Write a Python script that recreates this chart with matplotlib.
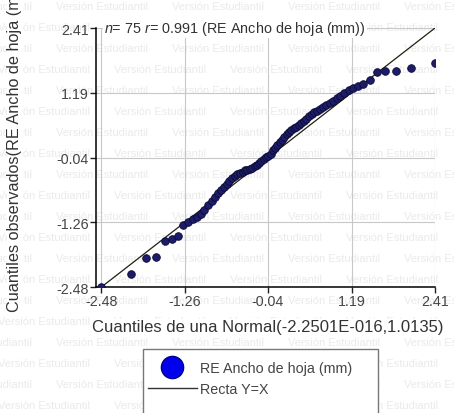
import numpy as np
import matplotlib
matplotlib.use('Agg')
import matplotlib.pyplot as plt
from matplotlib.lines import Line2D
from matplotlib.patches import Rectangle

plt.rcParams['font.family'] = ['Liberation Sans', 'DejaVu Sans']
plt.rcParams['mathtext.fontset'] = 'custom'
plt.rcParams['mathtext.it'] = 'Liberation Sans:italic'
plt.rcParams['mathtext.rm'] = 'Liberation Sans'

# cuantiles teoricos (normal) y observados de los residuos
cuantiles_normal = [-2.48, -2.05, -1.83, -1.68, -1.555, -1.45, -1.36, -1.28, -1.21, -1.14,
                    -1.08, -1.02, -0.97, -0.915, -0.866, -0.818, -0.772, -0.728, -0.685, -0.643,
                    -0.603, -0.563, -0.524, -0.486, -0.449, -0.412, -0.376, -0.341, -0.305, -0.27,
                    -0.236, -0.202, -0.168, -0.134, -0.1, -0.067, -0.033, 0.0, 0.033, 0.067,
                    0.1, 0.134, 0.168, 0.202, 0.236, 0.27, 0.305, 0.341, 0.376, 0.412,
                    0.449, 0.486, 0.524, 0.563, 0.603, 0.643, 0.685, 0.728, 0.772, 0.818,
                    0.866, 0.915, 0.967, 1.022, 1.08, 1.143, 1.21, 1.282, 1.361, 1.451,
                    1.555, 1.679, 1.834, 2.054, 2.41]
cuantiles_obs = [-2.48, -2.23, -1.93, -1.92, -1.62, -1.58, -1.52, -1.3, -1.25, -1.2,
                 -1.15, -1.1, -1.02, -0.93, -0.85, -0.78, -0.7, -0.65, -0.6, -0.53,
                 -0.48, -0.42, -0.38, -0.35, -0.32, -0.3, -0.28, -0.27, -0.25, -0.23,
                 -0.2, -0.17, -0.14, -0.11, -0.07, -0.03, 0.0, 0.04, 0.1, 0.15,
                 0.2, 0.25, 0.3, 0.35, 0.4, 0.44, 0.48, 0.52, 0.55, 0.58,
                 0.62, 0.66, 0.7, 0.74, 0.78, 0.82, 0.85, 0.88, 0.92, 0.96,
                 1.0, 1.04, 1.08, 1.13, 1.18, 1.24, 1.28, 1.32, 1.36, 1.42,
                 1.58, 1.59, 1.6, 1.66, 1.74]
marcas = [-2.48, -1.26, -0.04, 1.19, 2.41]
recta = [-2.48, 2.41]

fig = plt.figure(figsize=(4.54, 4.14), dpi=100)

# marca de agua "Versión Estudiantil" en filas alternadas, por debajo de todo
for k, yy in enumerate(np.arange(7, 414, 21)):
    desde = -60 if k % 2 == 0 else -2
    for xx in range(desde, 454, 116):
        fig.text(xx / 454, 1 - yy / 414, 'Versión Estudiantil', fontsize=8,
                 color='#eaeaea', va='center', ha='left', zorder=-5)

ax = fig.add_axes([96 / 454, 1 - 288 / 414, (435 - 96) / 454, (288 - 29) / 414])
ax.patch.set_alpha(0)

ax.plot(recta, recta, color='#202010', lw=0.9, zorder=2)
ax.scatter(cuantiles_normal, cuantiles_obs, s=30, color='#1c1c6a', edgecolor='#0a0a30',
           linewidth=0.6, zorder=3)

ax.set_xlim(-2.56, 2.41)
ax.set_ylim(-2.48, 2.41)
ax.set_xticks(marcas)
ax.set_yticks(marcas)
ax.set_xticklabels(['%.2f' % m for m in marcas])
ax.set_yticklabels(['%.2f' % m for m in marcas])
ax.grid(True, color='#c8c8c8', lw=0.8)
ax.set_axisbelow(True)
ax.spines['top'].set_visible(False)
ax.spines['right'].set_visible(False)
ax.spines['left'].set_linewidth(1.1)
ax.spines['bottom'].set_linewidth(1.1)
ax.tick_params(direction='out', length=4, width=1, labelsize=10.3, colors='#222222',
               labelcolor='#444444', pad=1)
for lab in ax.get_xticklabels() + ax.get_yticklabels():
    lab.set_clip_on(False)

ax.text(-2.44, 2.41, '$n$= 75 $r$= 0.991 (RE Ancho de hoja (mm))', fontsize=10.4,
        color='#333333', va='center', ha='left', zorder=4,
        bbox=dict(facecolor='white', edgecolor='none', pad=0.5))

fig.text(268 / 454, 1 - 328 / 414, 'Cuantiles de una Normal(-2.2501E-016,1.0135)',
         fontsize=12, color='#333333', ha='center', va='center',
         bbox=dict(facecolor='white', edgecolor='none', pad=0.3))
fig.text(15 / 454, 1 - 312 / 414, 'Cuantiles observados(RE Ancho de hoja (mm))',
         fontsize=11.7, color='#333333', ha='center', va='bottom', rotation=90,
         bbox=dict(facecolor='white', edgecolor='none', pad=0.3))

# recuadro de la leyenda (sigue por debajo del borde)
fig.patches.append(Rectangle((143 / 454, 1 - 440 / 414), 235 / 454, 90 / 414,
                             transform=fig.transFigure, facecolor='white',
                             edgecolor='#777777', lw=1, zorder=1))
manejadores = [Line2D([], [], ls='none', marker='o', markersize=16, color='#0000ee',
                      markeredgecolor='#000088'),
               Line2D([], [], color='#333333', lw=1)]
leg = fig.legend(manejadores, ['RE Ancho de hoja (mm)', 'Recta Y=X'],
                 loc='upper left', bbox_to_anchor=(143 / 454, 1 - 357 / 414),
                 fontsize=10.3, frameon=False, borderpad=0.35, borderaxespad=0,
                 handlelength=3.4, handletextpad=0.25, labelspacing=0.5)
for t in leg.get_texts():
    t.set_color('#444444')

fig.savefig('out.png', dpi=100)
